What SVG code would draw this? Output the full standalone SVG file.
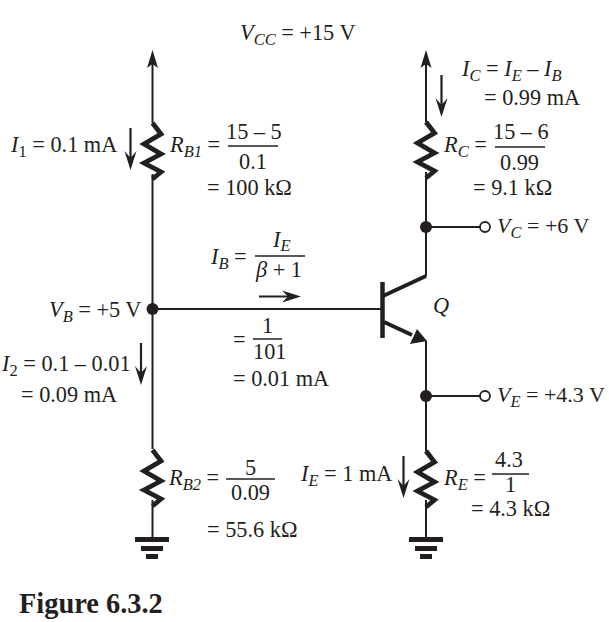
<svg xmlns="http://www.w3.org/2000/svg" width="609" height="622" viewBox="0 0 609 622">
<style>
text{font-family:"Liberation Serif","Times New Roman",serif;font-size:22.300px;fill:#231f20}
.i{font-style:italic}
.s{font-style:italic;font-size:16.500px}
.ss{font-size:16.500px}
.w{fill:none;stroke:#231f20;stroke-width:2}
.r{fill:none;stroke:#231f20;stroke-width:4.800;stroke-linejoin:miter;stroke-miterlimit:8}
.a{fill:none;stroke:#231f20;stroke-width:2.200}
.f{fill:#231f20;stroke:none}
.b{fill:none;stroke:#231f20;stroke-width:1.500}
</style>
<defs>
<path id="zig" d="M0 0L8.500 11L-8.500 21L8.500 31L-8.500 40L8.500 49L0 56" class="r"/>
<g id="down"><path d="M0 0V36" class="a"/><path d="M-6 23L0 42L6 23L0 30Z" class="f"/></g>
<g id="gnd"><rect x="-17" y="-3" width="34" height="5" class="f"/><rect x="-11" y="6" width="22" height="5" class="f"/><rect x="-6" y="14" width="12" height="5" class="f"/></g>
</defs>
<g id="connectors">
<path class="w" d="M152.500 60V123M152.500 174V449M152.500 500V540"/>
<path class="w" d="M152.500 309H382"/>
<path class="w" d="M426 60V122M426 172V276M426 341V451M426 500V540"/>
<path class="w" d="M426 227H481M426 396H481"/>
<path class="f" d="M152.500 50L147 68L152.500 64L158 68Z"/>
<path class="f" d="M426 50L420.500 68L426 64L431.500 68Z"/>
</g>
<g id="RB1"><use href="#zig" x="152.500" y="123"/></g>
<g id="RC"><use href="#zig" x="426" y="122"/></g>
<g id="RB2"><use href="#zig" x="152.500" y="450"/></g>
<g id="RE"><use href="#zig" x="426" y="451"/></g>
<g id="GND1"><use href="#gnd" x="152" y="540"/></g>
<g id="GND2"><use href="#gnd" x="426" y="540"/></g>
<g id="Q">
<path d="M382.500 282V338" fill="none" stroke="#231f20" stroke-width="4.500"/>
<path d="M383 296L426 276" fill="none" stroke="#231f20" stroke-width="4"/>
<path d="M384 322L412 335" fill="none" stroke="#231f20" stroke-width="4"/>
<path class="f" d="M427 341L417 329L410 344Z"/>
</g>
<g id="junctions">
<circle cx="152.500" cy="309" r="6" class="f"/>
<circle cx="426" cy="227" r="6" class="f"/>
<circle cx="426" cy="396" r="6" class="f"/>
<circle cx="485" cy="227" r="5" fill="#fff" stroke="#231f20" stroke-width="1.800"/>
<circle cx="485" cy="396" r="5" fill="#fff" stroke="#231f20" stroke-width="1.800"/>
</g>
<g id="arrows">
<use href="#down" x="130.500" y="128"/>
<use href="#down" x="441.500" y="75"/>
<use href="#down" x="141" y="343"/>
<use href="#down" x="403.500" y="456"/>
<path class="a" d="M259 296.500H292"/><path class="f" d="M282 290.500L301 296.500L282 302.500L288 296.500Z"/>
</g>
<g id="labels">
<text x="240" y="40"><tspan class="i">V</tspan><tspan class="s" dy="5">CC</tspan><tspan dy="-5"> = +15 V</tspan></text>
<text x="11" y="152"><tspan class="i">I</tspan><tspan class="ss" dy="5">1</tspan><tspan dy="-5"> = 0.1 mA</tspan></text>
<text x="170" y="152"><tspan class="i">R</tspan><tspan class="s" dy="5">B1</tspan><tspan dy="-5"> =</tspan></text>
<text x="226" y="138.500">15 – 5</text>
<path class="b" d="M228 146H278"/>
<text x="239" y="169">0.1</text>
<text x="207" y="194.500">= 100 kΩ</text>
<text x="211" y="264"><tspan class="i">I</tspan><tspan class="s" dy="5">B</tspan><tspan dy="-5"> =</tspan></text>
<text x="273" y="247"><tspan class="i">I</tspan><tspan class="s" dy="4">E</tspan></text>
<path class="b" d="M255 256H305"/>
<text x="256" y="276.500"><tspan class="i">β</tspan> + 1</text>
<text x="49" y="317"><tspan class="i">V</tspan><tspan class="s" dy="5">B</tspan><tspan dy="-5"> = +5 V</tspan></text>
<text x="233" y="347">=</text>
<text x="262" y="333">1</text>
<path class="b" d="M253 339H282"/>
<text x="253" y="358.500">101</text>
<text x="233" y="386">= 0.01 mA</text>
<text x="2" y="371"><tspan class="i">I</tspan><tspan class="ss" dy="5">2</tspan><tspan dy="-5"> = 0.1 – 0.01</tspan></text>
<text x="21" y="402">= 0.09 mA</text>
<text x="169" y="485"><tspan class="i">R</tspan><tspan class="s" dy="5">B2</tspan><tspan dy="-5"> =</tspan></text>
<text x="245" y="475">5</text>
<path class="b" d="M226 479H275"/>
<text x="231" y="499.500">0.09</text>
<text x="207" y="537">= 55.6 kΩ</text>
<text x="301" y="481"><tspan class="i">I</tspan><tspan class="s" dy="5">E</tspan><tspan dy="-5"> = 1 mA</tspan></text>
<text x="444" y="485"><tspan class="i">R</tspan><tspan class="s" dy="5">E</tspan><tspan dy="-5"> =</tspan></text>
<text x="495" y="467">4.3</text>
<path class="b" d="M492 474H529"/>
<text x="505" y="492">1</text>
<text x="471" y="516">= 4.3 kΩ</text>
<text x="462" y="76"><tspan class="i">I</tspan><tspan class="s" dy="5">C</tspan><tspan dy="-5"> = </tspan><tspan class="i">I</tspan><tspan class="s" dy="5">E</tspan><tspan dy="-5"> – </tspan><tspan class="i">I</tspan><tspan class="s" dy="5">B</tspan></text>
<text x="484" y="105">= 0.99 mA</text>
<text x="444" y="152"><tspan class="i">R</tspan><tspan class="s" dy="5">C</tspan><tspan dy="-5"> =</tspan></text>
<text x="493" y="139">15 – 6</text>
<path class="b" d="M495 147H545"/>
<text x="500" y="169.500">0.99</text>
<text x="473" y="194.500">= 9.1 kΩ</text>
<text x="497" y="233" style="font-size:22px"><tspan class="i">V</tspan><tspan class="s" dy="5">C</tspan><tspan dy="-5"> = +6 V</tspan></text>
<text x="497" y="402" style="font-size:22px"><tspan class="i">V</tspan><tspan class="s" dy="5">E</tspan><tspan dy="-5"> = +4.3 V</tspan></text>
<text x="433" y="313" class="i">Q</text>
<text x="19" y="613" style="font-size:28.400px;font-weight:bold">Figure 6.3.2</text>
</g>
</svg>
